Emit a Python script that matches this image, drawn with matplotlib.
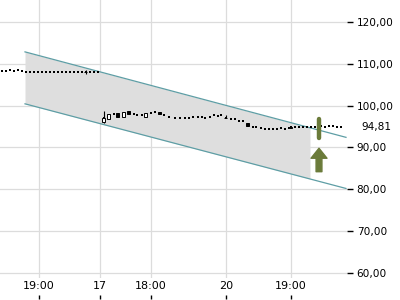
import matplotlib
matplotlib.use("Agg")
import matplotlib.pyplot as plt
import numpy as np

# ---- data ----
# price series (position along the time axis, price)
seg1_x = list(range(2, 99, 4))
seg1_y = [108.3, 108.3, 108.4, 108.3, 108.5, 108.3, 108.1, 108.1, 108.1, 108.1,
          108.0, 108.1, 108.1, 108.1, 108.0, 108.1, 108.0, 108.1, 108.1, 108.1,
          108.0, 107.9, 108.0, 107.9, 107.9]
seg2_x = [104, 109, 114, 118, 124, 129, 134, 137, 142, 146, 151, 155, 160, 164,
          169, 175, 180, 185, 189, 193, 198, 202, 205, 210, 214, 218, 221]
seg2_y = [96.9, 97.6, 97.9, 97.6, 97.9, 98.2, 97.9, 97.65, 97.8, 97.6, 98.3, 98.4,
          98.1, 97.7, 97.3, 97.0, 96.9, 97.1, 97.1, 97.25, 97.3, 97.3, 97.1, 97.3,
          97.65, 97.6, 97.65]
seg3_x = [226, 231, 235, 239, 243, 248, 253, 256, 261, 265, 269, 273, 277, 281,
          285, 289, 291, 295, 299, 303, 307, 311, 315, 321, 325, 329, 333, 337, 341]
seg3_y = [97.0, 96.7, 96.7, 96.2, 96.2, 95.3, 94.9, 94.9, 94.6, 94.5, 94.5, 94.5,
          94.5, 94.6, 94.5, 94.6, 94.8, 94.8, 94.9, 94.8, 94.9, 94.8, 94.9, 95.0,
          94.9, 95.0, 95.0, 94.9, 94.81]

# a few visible candles: x, open, close, low, high
cdl_x = [86, 104, 109, 118, 124, 129, 146, 160, 226, 248, 291]
cdl_open = [108.0, 96.1, 96.7, 98.1, 97.3, 98.7, 97.3, 98.5, 97.0, 95.8, 94.6]
cdl_close = [107.9, 97.1, 97.9, 97.3, 98.4, 97.9, 98.3, 97.9, 97.1, 95.0, 94.9]
cdl_low = [107.4, 95.9, 96.7, 97.3, 97.3, 97.9, 97.3, 97.9, 96.9, 95.0, 94.6]
cdl_high = [108.4, 98.6, 97.9, 98.1, 98.4, 98.7, 98.3, 98.5, 97.8, 95.8, 94.9]

# trend channel
chan_x = [25, 346]
chan_upper = [112.8, 92.4]
chan_lower = [100.4, 80.2]
shade_end = 310

# signal
signal_x = 319
signal_bar = [92.3, 96.7]
arrow_from, arrow_to = 84.2, 89.8

last_price = "94,81"

xtick_pos = [39, 100, 151, 226, 291]
xtick_labels = ["19:00", "17", "18:00", "20", "19:00"]
ytick_vals = [60, 70, 80, 90, 100, 110, 120]

# ---- figure ----
fig = plt.figure(figsize=(4, 3), dpi=100)
ax = fig.add_axes([0, 278/300*0 + 22/300, 347/400, 278/300])
ax.set_xlim(0, 347)
ax.set_ylim(58.83, 125.18)

for s in ax.spines.values():
    s.set_visible(False)

ax.grid(True, color="#dcdcdc", linewidth=0.9)
ax.set_axisbelow(True)

# channel
cx = np.array(chan_x, float)
sx = np.linspace(chan_x[0], shade_end, 50)
ax.fill_between(sx, np.interp(sx, cx, chan_lower), np.interp(sx, cx, chan_upper),
                color="#dedede", zorder=1, linewidth=0)
ax.plot(cx, chan_upper, color="#5e9ea5", lw=0.9, zorder=2)
ax.plot(cx, chan_lower, color="#5e9ea5", lw=0.9, zorder=2)

# price points
for xs, ys in [(seg1_x, seg1_y), (seg2_x, seg2_y), (seg3_x, seg3_y)]:
    ax.plot(xs, ys, linestyle="none", marker="s", markersize=2.0,
            color="black", markeredgewidth=0, zorder=4)

# candles
for x, o, c, lo, hi in zip(cdl_x, cdl_open, cdl_close, cdl_low, cdl_high):
    ax.vlines(x, lo, hi, color="black", lw=0.8, zorder=4)
    white = c > o
    ax.bar(x, abs(c - o), bottom=min(o, c), width=3,
           color="white" if white else "black", edgecolor="black",
           linewidth=0.7, zorder=5)

# signal bar and arrow
green = "#6b7b3a"
ax.plot([signal_x, signal_x], signal_bar, color=green, lw=3.2,
        solid_capstyle="round", zorder=6)
ax.annotate("", xy=(signal_x, arrow_to), xytext=(signal_x, arrow_from),
            arrowprops=dict(arrowstyle="simple,head_length=0.72,head_width=1.15,tail_width=0.42",
                            color=green, shrinkA=0, shrinkB=0, mutation_scale=10),
            zorder=6)

# y axis on right
ax.yaxis.tick_right()
ax.set_yticks(ytick_vals)
ax.set_yticklabels([f"{v:.2f}".replace(".", ",") for v in ytick_vals], fontsize=7.6)
ax.tick_params(axis="y", length=4, width=1, color="black", pad=3)

# last price label
ax.annotate(last_price, xy=(1.0, seg3_y[-1]), xycoords=("axes fraction", "data"),
            xytext=(10, 0), textcoords="offset points", fontsize=7.6,
            va="center", ha="left", annotation_clip=False)

# x axis
ax.set_xticks(xtick_pos)
ax.set_xticklabels(xtick_labels, fontsize=8)
ax.tick_params(axis="x", length=0, pad=2.5)
sec = ax.secondary_xaxis(-0.062)
sec.set_xticks(xtick_pos)
sec.tick_params(axis="x", length=3, width=1, labelbottom=False)
sec.spines["bottom"].set_visible(False)

fig.savefig("out.png", dpi=100)
